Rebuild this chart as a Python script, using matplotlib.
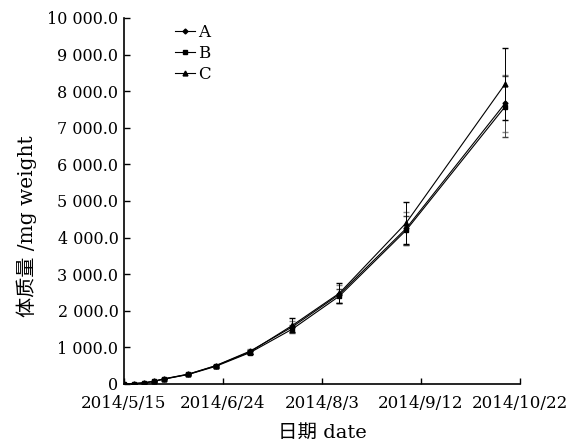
import datetime as dt
import matplotlib
matplotlib.use("Agg")
import matplotlib.pyplot as plt
from matplotlib.lines import Line2D
from matplotlib.ticker import FuncFormatter

plt.rcParams['font.family'] = ['DejaVu Serif', 'Noto Sans CJK SC']

# sampling dates and body mass (mg)
dates = ["2014-05-15", "2014-05-19", "2014-05-23", "2014-05-27", "2014-05-31",
         "2014-06-10", "2014-06-21", "2014-07-05", "2014-07-22", "2014-08-10",
         "2014-09-06", "2014-10-16"]
a_vals = [5, 12, 30, 75, 140, 270, 500, 900, 1560, 2450, 4250, 7670]
b_vals = [5, 10, 28, 70, 130, 260, 480, 860, 1500, 2400, 4200, 7580]
c_vals = [5, 11, 29, 72, 135, 265, 495, 880, 1600, 2480, 4400, 8200]
a_err = [1, 2, 4, 8, 12, 20, 30, 50, 150, 250, 450, 780]
b_err = [1, 2, 4, 8, 12, 20, 30, 50, 120, 200, 400, 840]
c_err = [1, 2, 4, 8, 12, 20, 30, 60, 190, 280, 570, 990]

x_ticks = ["2014-05-15", "2014-06-24", "2014-08-03", "2014-09-12", "2014-10-22"]
x_labels = ["2014/5/15", "2014/6/24", "2014/8/3", "2014/9/12", "2014/10/22"]

x = [dt.datetime.strptime(d, "%Y-%m-%d") for d in dates]
xt = [dt.datetime.strptime(d, "%Y-%m-%d") for d in x_ticks]

fig = plt.figure(figsize=(5.77, 4.43), dpi=100)
ax = fig.add_axes([0.2149, 0.1332, 0.6863, 0.8262])

ax.errorbar(x, a_vals, yerr=a_err, color='black', ecolor='#888888', lw=0.8,
            elinewidth=0.7, capsize=2, marker='D', ms=2.5)
ax.errorbar(x, b_vals, yerr=b_err, color='black', ecolor='#444444', lw=0.8,
            elinewidth=0.7, capsize=2, marker='s', ms=3)
ax.errorbar(x, c_vals, yerr=c_err, color='black', ecolor='black', lw=0.8,
            elinewidth=0.7, capsize=2, marker='^', ms=3.5)

ax.set_xlim(xt[0], xt[-1])
ax.set_ylim(0, 10000)
ax.set_xticks(xt)
ax.set_xticklabels(x_labels)
ax.set_yticks(range(0, 10001, 1000))


def fmt(v, pos):
    if v == 0:
        return "0"
    return "{:,.1f}".format(v).replace(",", " ")


ax.yaxis.set_major_formatter(FuncFormatter(fmt))
ax.tick_params(direction='in', length=4, width=1, labelsize=11.5, colors='black')
ax.tick_params(axis='x', labelsize=12, pad=8)
ax.tick_params(axis='y', pad=4)
ax.spines['top'].set_visible(False)
ax.spines['right'].set_visible(False)
ax.spines['left'].set_linewidth(1.2)
ax.spines['bottom'].set_linewidth(1.2)

ax.set_xlabel("日期 date", fontsize=14)
ax.set_ylabel("体质量 /mg weight", fontsize=14.5)
ax.xaxis.set_label_coords(0.5, -0.108)
ax.yaxis.set_label_coords(-0.22, 0.43)

handles = [Line2D([], [], color='black', lw=0.8, marker='D', ms=2.5),
           Line2D([], [], color='black', lw=0.8, marker='s', ms=3),
           Line2D([], [], color='black', lw=0.8, marker='^', ms=3.5)]
ax.legend(handles, ['A', 'B', 'C'], loc='upper left',
          bbox_to_anchor=(0.09, 1.025), frameon=False, fontsize=12,
          handlelength=1.2, handletextpad=0.2, labelspacing=0.25)

fig.savefig("out.png", dpi=100)
